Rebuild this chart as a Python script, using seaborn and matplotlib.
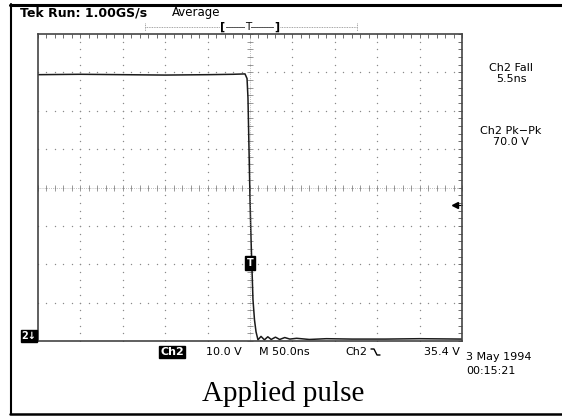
import numpy as np
import pandas as pd
import matplotlib
matplotlib.use("Agg")
import matplotlib.pyplot as plt
import seaborn as sns
from matplotlib.lines import Line2D

# Ch2 trace: time in ns (0 = trigger), voltage in V
time_ns = [-250, -200, -150, -100, -50, -20, -5.9, -3.5, -2.4, -1.2, 0.0, 1.2, 3.5,
           5.3, 7.1, 9.4, 13, 17, 21, 25, 30, 35, 41, 47, 55, 70, 90, 120, 160, 200, 250]
volts = [69.4, 69.5, 69.4, 69.3, 69.4, 69.5, 69.6, 68.4, 63.4, 50.3, 37.1, 26.6, 10.8,
         5.5, 2.4, 0.3, 1.2, 0.3, 1.1, 0.4, 1.0, 0.4, 0.9, 0.5, 0.7, 0.4, 0.6, 0.5, 0.5, 0.6, 0.5]

# scope settings
volts_per_div = 10.0
ns_per_div = 50.0
trig_level = 35.4
trig_marker_v = 20.3

W, H = 562, 416


def px(x, y):
    """pixel -> figure coords"""
    return x / W, 1 - y / H


sns.set_style("white")
plt.rcParams['font.family'] = ['DejaVu Sans']
plt.rcParams['text.color'] = 'black'

fig = plt.figure(figsize=(W / 100, H / 100), dpi=100)
fig.patch.set_facecolor("white")

# graticule
left, top, right, bottom = 38, 34, 462, 341
ax = fig.add_axes([left / W, 1 - bottom / H, (right - left) / W, (bottom - top) / H])
ax.set_xlim(-5 * ns_per_div, 5 * ns_per_div)
ax.set_ylim(0, 8 * volts_per_div)

df = pd.DataFrame({"t": time_ns, "v": volts})
sns.lineplot(data=df, x="t", y="v", ax=ax, color="#1a1a1a", linewidth=1.1)

grid_col = "#8a8a8a"
xmaj = np.arange(-250, 251, ns_per_div)
ymaj = np.arange(0, 81, volts_per_div)
xmin = np.arange(-250, 251, ns_per_div / 5)
ymin = np.arange(0, 81, volts_per_div / 5)

# dotted grid
for xv in xmaj[1:-1]:
    ax.scatter(np.full(len(ymin), xv), ymin, s=1.0, color=grid_col, lw=0)
for yv in ymaj[1:-1]:
    ax.scatter(xmin, np.full(len(xmin), yv), s=1.0, color=grid_col, lw=0)

# center cross with ticks
ax.scatter(xmin, np.full(len(xmin), 40), marker="|", s=14, color=grid_col, lw=0.6)
ax.scatter(np.zeros(len(ymin)), ymin, marker="_", s=14, color=grid_col, lw=0.6)
ax.axhline(40, color=grid_col, lw=0.5, ls=(0, (1, 2)))
ax.axvline(0, color=grid_col, lw=0.5, ls=(0, (1, 2)))

ax.set_xticks(xmin)
ax.set_yticks(ymin)
ax.tick_params(direction="in", length=3, width=0.6, color="#555555",
               top=True, right=True, labelbottom=False, labelleft=False)
ax.set_xlabel("")
ax.set_ylabel("")
for sp in ax.spines.values():
    sp.set_color("#444444")
    sp.set_linewidth(1.2)
    sp.set_visible(True)

# trigger position marker
ax.text(0, trig_marker_v, "T", ha="center", va="center", fontsize=7, color="white",
        fontweight="bold", bbox=dict(boxstyle="square,pad=0.2", fc="black", ec="black"))
# trigger level arrow
ax.plot([242, 250], [trig_level, trig_level], color="black", lw=0.8, clip_on=False)
ax.plot([242], [trig_level], marker="<", color="black", ms=4, clip_on=False)

# outer frame
fig.add_artist(Line2D([px(10, 0)[0], 1], [px(0, 4.5)[1]] * 2, color="black", lw=2.2))
fig.add_artist(Line2D([px(10.5, 0)[0]] * 2, [px(0, 4)[1], px(0, 414)[1]], color="black", lw=1.5))
fig.add_artist(Line2D([px(10, 0)[0], 1], [px(0, 414)[1]] * 2, color="black", lw=1.8))

# header
fig.text(*px(20, 16), "Tek Run: 1.00GS/s", fontsize=9, fontweight="bold", va="baseline")
fig.text(*px(172, 16), "Average", fontsize=8.5, va="baseline")

# record view bar
ybar = 27
fig.add_artist(Line2D([px(145, 0)[0], px(357, 0)[0]], [px(0, ybar)[1]] * 2,
                      color="#888888", lw=0.6, ls=(0, (1, 1))))
for xe in (145, 357):
    fig.add_artist(Line2D([px(xe, 0)[0]] * 2, [px(0, ybar - 4)[1], px(0, ybar + 4)[1]],
                          color="#888888", lw=0.6, ls=(0, (1, 1))))
fig.add_artist(Line2D([px(223, 0)[0], px(277, 0)[0]], [px(0, ybar)[1]] * 2, color="#444444", lw=0.6))
fig.text(*px(223, ybar), "[", fontsize=8, ha="center", va="center", fontweight="bold",
         bbox=dict(fc="white", ec="none", pad=0))
fig.text(*px(277, ybar), "]", fontsize=8, ha="center", va="center", fontweight="bold",
         bbox=dict(fc="white", ec="none", pad=0))
fig.text(*px(248, ybar), "T", fontsize=7.5, ha="center", va="center",
         bbox=dict(fc="white", ec="none", pad=0))

# right side measurements
fs = 8
fig.text(*px(511, 68), "Ch2 Fall", fontsize=fs, ha="center", va="center")
fig.text(*px(511, 79), "5.5ns", fontsize=fs, ha="center", va="center")
fig.text(*px(511, 131), "Ch2 Pk\u2212Pk", fontsize=fs, ha="center", va="center")
fig.text(*px(511, 142), "70.0 V", fontsize=fs, ha="center", va="center")

# ground marker
fig.text(*px(29, 336), "2\u2193", fontsize=7, ha="center", va="center", color="white",
         fontweight="bold", bbox=dict(boxstyle="square,pad=0.1", fc="black", ec="black"))

# bottom status line
yb = 352
fig.text(*px(172, yb), "Ch2", fontsize=8, ha="center", va="center", color="white",
         fontweight="bold", bbox=dict(boxstyle="square,pad=0.1", fc="black", ec="black"))
fig.text(*px(206, yb), "10.0 V", fontsize=fs, va="center")
fig.text(*px(259, yb), "M 50.0ns", fontsize=fs, va="center")
fig.text(*px(345, yb), "Ch2", fontsize=fs, va="center")
sx, sy = 371, yb
fig.add_artist(Line2D([px(sx, 0)[0], px(sx + 3, 0)[0], px(sx + 6, 0)[0], px(sx + 9, 0)[0]],
                      [px(0, sy - 3)[1], px(0, sy - 3)[1], px(0, sy + 3)[1], px(0, sy + 3)[1]],
                      color="black", lw=1.0))
fig.text(*px(460, yb), "35.4 V", fontsize=fs, ha="right", va="center")
fig.text(*px(466, 357), "3 May 1994", fontsize=fs, va="center")
fig.text(*px(466, 371), "00:15:21", fontsize=fs, va="center")

# caption
fig.text(*px(283, 394), "Applied pulse", fontsize=21, ha="center", va="center",
         family=["Liberation Serif"])

fig.savefig("out.png", dpi=100)
